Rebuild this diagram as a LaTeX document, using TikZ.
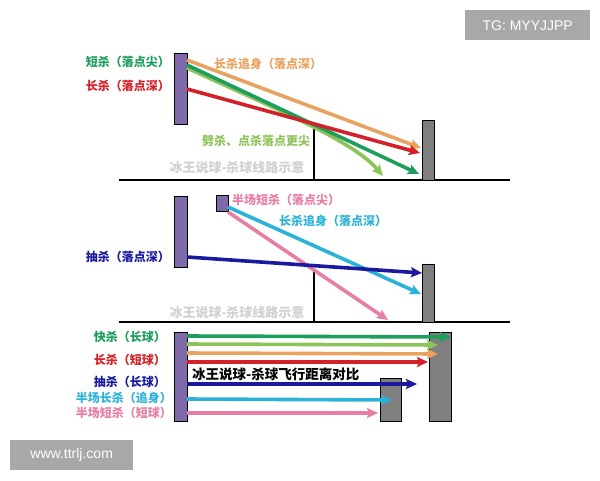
\documentclass[tikz,border=0pt]{standalone}
\usepackage{fontspec}
\usetikzlibrary{arrows.meta}
\setmainfont{Liberation Sans}
\newfontfamily\cjk{Noto Sans CJK SC}
\definecolor{cPurple}{HTML}{7E6AA8}
\definecolor{cGray}{HTML}{7F7F7F}
\definecolor{cOrange}{HTML}{E9A35E}
\definecolor{cGreen}{HTML}{1E9E5C}
\definecolor{cLGreen}{HTML}{8DC45A}
\definecolor{cRed}{HTML}{D42028}
\definecolor{cBlue}{HTML}{1A1A9E}
\definecolor{cCyan}{HTML}{2CB2D8}
\definecolor{cPink}{HTML}{E87EA4}
\definecolor{cWm}{HTML}{A8A8A8}
\tikzset{
  player/.style={draw=black, line width=1.2pt, fill=cPurple, inner sep=0pt, anchor=north west},
  target/.style={draw=black, line width=1.2pt, fill=cGray, inner sep=0pt, anchor=north west},
  ground/.style={line width=2.6pt, black},
  netpost/.style={line width=2.2pt, black},
  shot/.style={line width=3.6pt, -{Stealth[length=11pt,width=10pt,inset=2pt]}},
  lbl/.style={font=\cjk\bfseries\fontsize{12}{14}\selectfont, inner sep=0pt},
  wmark/.style={font=\cjk\bfseries\fontsize{13}{15}\selectfont, text=black!18, inner sep=0pt},
  tag/.style={fill=cWm, text=white, font=\fontsize{14}{16}\selectfont, inner sep=0pt, anchor=north west}
}
\begin{document}
\begin{tikzpicture}[x=1pt,y=-1pt]
\useasboundingbox[fill=white] (0,0) rectangle (600,480);

% ---------- tags ----------
\node[tag, minimum width=125pt, minimum height=30pt] (tg) at (465,10) {TG: MYYJJPP};
\node[tag, minimum width=123pt, minimum height=30pt] (www) at (10,440) {www.ttrlj.com};

% ---------- top section ----------
\draw[ground] (119,180) coordinate (g1a) -- (510,180) coordinate (g1b);
\coordinate (n1t) at (314,128);
\coordinate (n1b) at (314,180);
\draw[netpost] (n1t) -- (n1b);
\node[player, minimum width=13pt, minimum height=71pt] (p1) at (173.5,53) {};
\node[target, minimum width=12pt, minimum height=60pt] (t1) at (422,119.5) {};
\node[wmark] (w1) at (237,167) {冰王说球-杀球线路示意};

\coordinate (s1o) at (187,60);
\coordinate (s1g) at (187,65);
\coordinate (s1l) at (187,68);
\coordinate (s1r) at (187,89);
\coordinate (e1o) at (421,148);
\coordinate (e1r) at (420,153);
\coordinate (e1g) at (419,174);
\coordinate (e1l) at (383,176);
\draw[shot, cOrange] (s1o) -- (e1o);
\draw[shot, cLGreen] (s1l) .. controls (290,115) and (355,143) .. (e1l);
\draw[shot, cGreen] (s1g) -- (e1g);
\draw[shot, cRed] (s1r) -- (e1r);

\node[lbl, text=cGreen, anchor=east] (l1) at (170,62) {短杀（落点尖）};
\node[lbl, text=cRed, anchor=east] (l2) at (170,86) {长杀（落点深）};
\node[lbl, text=cOrange, anchor=west] (l3) at (214,64) {长杀追身（落点深）};
\node[lbl, text=cLGreen, anchor=west] (l4) at (202,141) {劈杀、点杀落点更尖};

% ---------- middle section ----------
\draw[ground] (119,322) coordinate (g2a) -- (510,322) coordinate (g2b);
\coordinate (n2t) at (314,271);
\coordinate (n2b) at (314,322);
\draw[netpost] (n2t) -- (n2b);
\node[player, minimum width=13pt, minimum height=71pt] (p2) at (173.5,196) {};
\node[player, minimum width=12pt, minimum height=16pt] (p3) at (215.5,194.5) {};
\node[target, minimum width=12pt, minimum height=58pt] (t2) at (422,263.5) {};
\node[wmark] (w2) at (237,312) {冰王说球-杀球线路示意};

\coordinate (s2b) at (187,257);
\coordinate (s2c) at (228,207);
\coordinate (s2p) at (228,212);
\coordinate (e2b) at (422,273);
\coordinate (e2c) at (421,294);
\coordinate (e2p) at (388,320);
\draw[shot, cPink] (s2p) -- (e2p);
\draw[shot, cCyan] (s2c) -- (e2c);
\draw[shot, cBlue] (s2b) -- (e2b);

\node[lbl, text=cPink, anchor=west] (l5) at (232,200) {半场短杀（落点尖）};
\node[lbl, text=cCyan, anchor=west] (l6) at (279,221) {长杀追身（落点深）};
\node[lbl, text=cBlue, anchor=east] (l7) at (170,257) {抽杀（落点深）};

% ---------- bottom section ----------
\node[player, minimum width=13pt, minimum height=89pt] (p4) at (173.5,332) {};
\node[target, minimum width=22pt, minimum height=89pt] (t3) at (428.5,332) {};
\node[target, minimum width=21pt, minimum height=43pt] (t4) at (379.5,378) {};

\coordinate (s3a) at (187,336);
\coordinate (s3b) at (187,344);
\coordinate (s3c) at (187,353);
\coordinate (s3d) at (187,362);
\coordinate (s3e) at (187,384);
\coordinate (s3f) at (187,399);
\coordinate (s3g) at (187,413);
\coordinate (e3a) at (451,337);
\coordinate (e3b) at (438,345);
\coordinate (e3c) at (438,354);
\coordinate (e3d) at (428,362);
\coordinate (e3e) at (417,384);
\coordinate (e3f) at (392,400);
\coordinate (e3g) at (378,413);
\draw[shot, cGreen] (s3a) -- (e3a);
\draw[shot, cLGreen] (s3b) -- (e3b);
\draw[shot, cOrange] (s3c) -- (e3c);
\draw[shot, cRed] (s3d) -- (e3d);
\draw[shot, cBlue] (s3e) -- (e3e);
\draw[shot, cCyan] (s3f) -- (e3f);
\draw[shot, cPink] (s3g) -- (e3g);

\node[font=\cjk\bfseries\fontsize{13.5}{15}\selectfont, inner sep=0pt, anchor=west] (mt) at (192,374) {冰王说球-杀球飞行距离对比};

\node[lbl, text=cGreen, anchor=east] (l8) at (166,337) {快杀（长球）};
\node[lbl, text=cRed, anchor=east] (l9) at (166,360) {长杀（短球）};
\node[lbl, text=cBlue, anchor=east] (l10) at (166,382) {抽杀（长球）};
\node[lbl, text=cCyan, anchor=east] (l11) at (172,398) {半场长杀（追身）};
\node[lbl, text=cPink, anchor=east] (l12) at (172,413) {半场短杀（短球）};
\end{tikzpicture}
\end{document}
